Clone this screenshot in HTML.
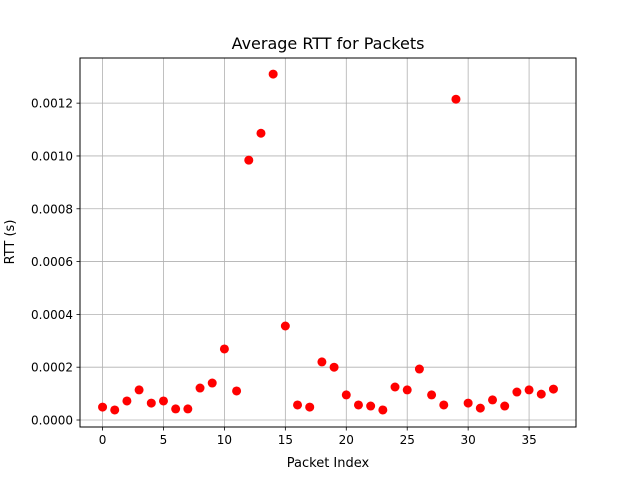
<!DOCTYPE html>
<html><head><meta charset="utf-8"><style>
body{margin:0;background:#fff;}
svg text{font-family:"DejaVu Sans","Liberation Sans",sans-serif;fill:#000;}
</style></head><body>
<svg id="chart" width="640" height="480" viewBox="0 0 640 480">
<rect width="640" height="480" fill="#fff"/>
<text x="328" y="49" font-size="16" text-anchor="middle">Average RTT for Packets</text>
<g id="grid"></g>
<g id="pts"></g>
<rect x="80" y="58" width="496" height="369" fill="none" stroke="#000" stroke-width="1"/>
<g id="xt"></g><g id="yt"></g>
<text x="328" y="467" font-size="13" text-anchor="middle">Packet Index</text>
<text transform="translate(14,242) rotate(-90)" font-size="13" text-anchor="middle">RTT (s)</text>
</svg>
<script>
const rtt=[0.000049,0.000038,0.000072,0.000114,0.000064,0.000072,0.000042,0.000042,0.000121,0.00014,0.000269,0.00011,0.000984,0.001086,0.00131,0.000356,0.000057,0.000049,0.00022,0.0002,0.000095,0.000057,0.000053,0.000038,0.000125,0.000114,0.000193,0.000095,0.000057,0.001215,0.000064,0.000045,0.000076,0.000053,0.000106,0.000114,0.000098,0.000117];
const xTicks=[0,5,10,15,20,25,30,35];
const yTicks=[0,0.0002,0.0004,0.0006,0.0008,0.001,0.0012];
const yLabels=["0.0000","0.0002","0.0004","0.0006","0.0008","0.0010","0.0012"];
const X0=80,X1=576,Y0=427,Y1=58,xmin=-1.85,xmax=38.85,ymin=-0.0000265,ymax=0.001371;
const sx=v=>X0+(v-xmin)/(xmax-xmin)*(X1-X0);
const sy=v=>Y0-(v-ymin)/(ymax-ymin)*(Y0-Y1);
const NS="http://www.w3.org/2000/svg";
const mk=(t,a,p)=>{const e=document.createElementNS(NS,t);for(const k in a)e.setAttribute(k,a[k]);p.appendChild(e);return e;};
const grid=document.getElementById('grid'),xt=document.getElementById('xt'),yt=document.getElementById('yt'),pts=document.getElementById('pts');
xTicks.forEach(v=>{const x=sx(v);
 const g=mk('line',{x1:x,x2:x,y1:Y1,y2:Y0,stroke:'#b0b0b0','stroke-width':0.8},grid);
 
 
 mk('line',{x1:x,x2:x,y1:Y0,y2:Y0+3.5,stroke:'#000','stroke-width':0.8},xt);
 const t=mk('text',{x:x,y:Y0+17,'font-size':12,'text-anchor':'middle'},xt);t.textContent=v;
 
 
});
yTicks.forEach((v,i)=>{const y=sy(v);
 const g=mk('line',{x1:X0,x2:X1,y1:y,y2:y,stroke:'#b0b0b0','stroke-width':0.8},grid);
 
 
 mk('line',{x1:X0-3.5,x2:X0,y1:y,y2:y,stroke:'#000','stroke-width':0.8},yt);
 const t=mk('text',{x:X0-7,y:y+4.5,'font-size':12,'text-anchor':'end'},yt);t.textContent=yLabels[i];
 
 
});
rtt.forEach((v,i)=>{
 const c=mk('circle',{cx:sx(i),cy:sy(v),r:4.5,fill:'#ff0000'},pts);
 
 
});
</script>
</body></html>
